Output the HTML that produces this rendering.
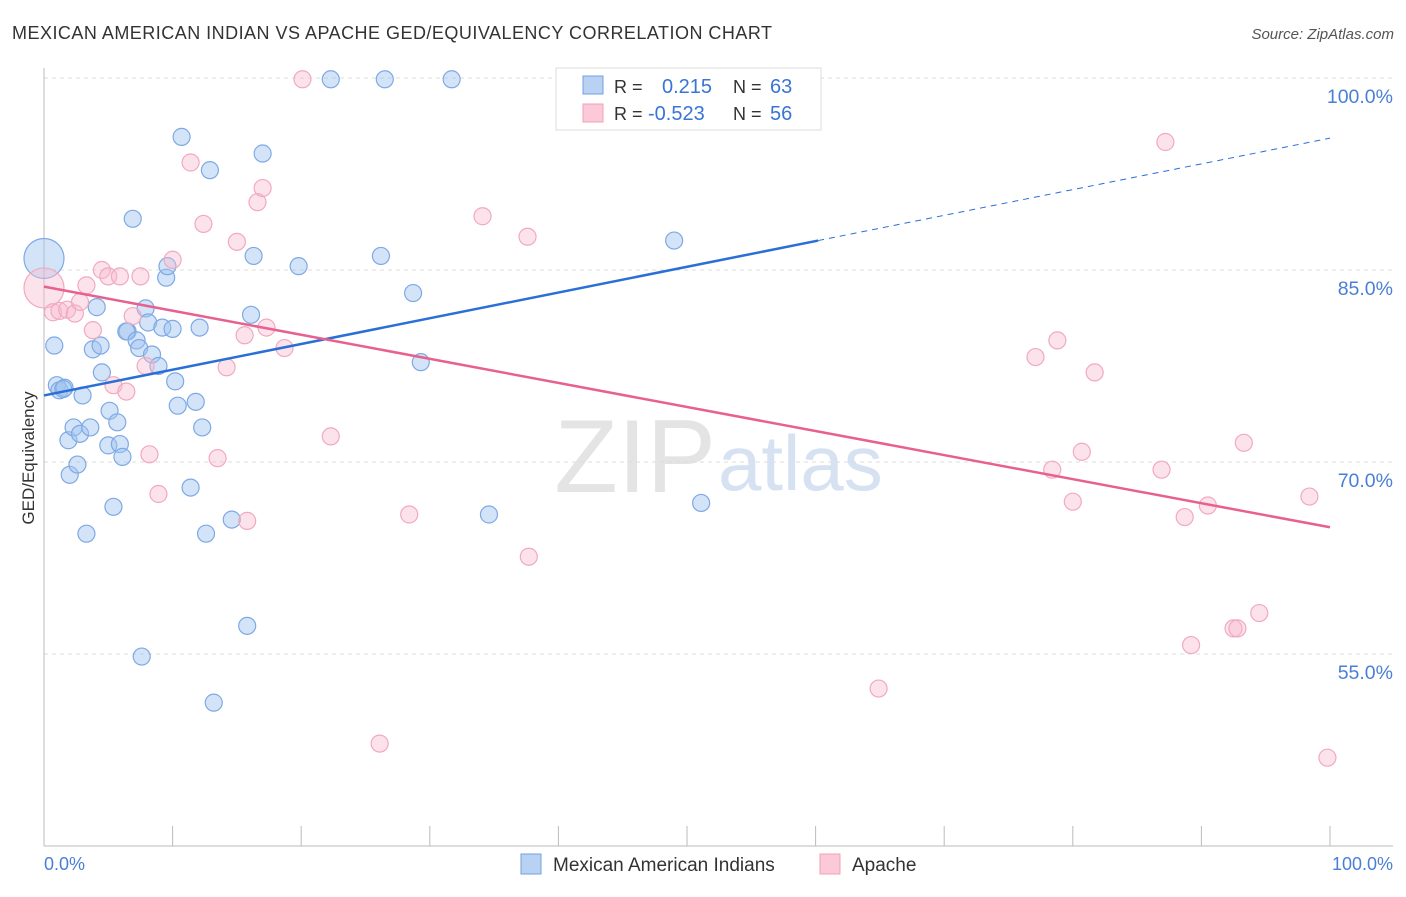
<!DOCTYPE html>
<html><head><meta charset="utf-8"><style>
body{margin:0;background:#fff;font-family:"Liberation Sans",sans-serif;}
svg text{font-family:"Liberation Sans",sans-serif;}
</style></head><body>
<svg id="chart" width="1406" height="892">
<text x="12" y="39" font-size="18" fill="#333" textLength="760">MEXICAN AMERICAN INDIAN VS APACHE GED/EQUIVALENCY CORRELATION CHART</text>
<text x="1394" y="39" font-size="15" fill="#555" font-style="italic" text-anchor="end">Source: ZipAtlas.com</text>
<text x="716" y="492" font-size="104" fill="#e4e4e4" font-family="Liberation Serif" text-anchor="end">ZIP</text>
<text x="718" y="490" font-size="78" fill="#d6e2f2">atlas</text>
<g id="grid"></g>
<g id="axes"></g>
<g id="marks"></g>
<text transform="translate(34,458) rotate(-90)" font-size="17" fill="#333" text-anchor="middle">GED/Equivalency</text>
<text x="44" y="870" font-size="18" fill="#4a7fd6">0.0%</text>
<text x="1393" y="870" font-size="18" fill="#4a7fd6" text-anchor="end">100.0%</text>
<g>
<rect x="556" y="68" width="265" height="62" fill="#fff" stroke="#ddd"/>
<rect x="583" y="76" width="20" height="18" fill="#b9d2f4" stroke="#6fa0e0"/>
<rect x="583" y="104" width="20" height="18" fill="#fbc9d8" stroke="#f0a0b8"/>
<text x="614" y="93" font-size="18" fill="#333">R = </text><text x="662" y="93" font-size="20" fill="#3a74d4">0.215</text>
<text x="733" y="93" font-size="18" fill="#333">N = </text><text x="770" y="93" font-size="20" fill="#3a74d4">63</text>
<text x="614" y="120" font-size="18" fill="#333">R = </text><text x="648" y="120" font-size="20" fill="#3a74d4">-0.523</text>
<text x="733" y="120" font-size="18" fill="#333">N = </text><text x="770" y="120" font-size="20" fill="#3a74d4">56</text>
</g>
<g>
<rect x="521" y="854" width="20" height="20" fill="#b9d2f4" stroke="#6fa0e0"/>
<text x="553" y="871" font-size="19" fill="#333">Mexican American Indians</text>
<rect x="820" y="854" width="20" height="20" fill="#fbc9d8" stroke="#f0a0b8"/>
<text x="852" y="871" font-size="19" fill="#333">Apache</text>
</g>
</svg>
<script>
const yTicks=[100,85,70,55];
const xTicks=[0,10,20,30,40,50,60,70,80,90,100];
const blueX=[0,0.8,1.0,1.2,1.6,1.5,3.0,1.9,2.0,2.3,2.6,2.8,3.3,3.6,4.1,3.8,4.4,4.5,5.1,5.4,5.0,5.7,5.9,6.1,6.9,7.9,8.1,6.5,6.4,7.2,7.4,8.4,8.9,9.2,10.0,9.5,9.6,10.2,10.4,10.7,11.8,11.4,12.1,12.3,12.6,12.9,13.2,14.6,15.8,16.1,16.3,17.0,19.8,22.3,26.5,26.2,28.7,29.3,31.7,34.6,49.0,51.1,7.6];
const blueY=[85.9,79.1,76.0,75.6,75.8,75.7,75.2,71.7,69.0,72.7,69.8,72.2,64.4,72.7,82.1,78.8,79.1,77.0,74.0,66.5,71.3,73.1,71.4,70.4,89.0,82.0,80.9,80.2,80.2,79.5,78.9,78.4,77.5,80.5,80.4,84.4,85.3,76.3,74.4,95.4,74.7,68.0,80.5,72.7,64.4,92.8,51.2,65.5,57.2,81.5,86.1,94.1,85.3,99.9,99.9,86.1,83.2,77.8,99.9,65.9,87.3,66.8,54.8];
const pinkX=[0,0.7,1.2,1.8,2.4,2.8,3.3,3.8,4.5,5.0,5.9,7.5,6.9,5.4,6.4,7.9,8.2,8.9,10.0,11.4,12.4,14.2,15.0,15.6,15.8,16.6,17.0,17.3,18.7,13.5,20.1,22.3,26.1,28.4,34.1,37.6,37.7,64.9,77.1,78.8,78.4,80.0,80.7,81.7,86.9,87.2,88.7,89.2,90.5,92.5,92.8,93.3,94.5,98.4,99.8];
const pinkY=[83.6,81.7,81.8,81.9,81.6,82.5,83.8,80.3,85.0,84.5,84.5,84.5,81.4,76.0,75.5,77.5,70.6,67.5,85.8,93.4,88.6,77.4,87.2,79.9,65.4,90.3,91.4,80.5,78.9,70.3,99.9,72.0,48.0,65.9,89.2,87.6,62.6,52.3,78.2,79.5,69.4,66.9,70.8,77.0,69.4,95.0,65.7,55.7,66.6,57.0,57.0,71.5,58.2,67.3,46.9];
const blueTrend=[75.2,95.3]; const blueSolidEnd=60.2;
const pinkTrend=[83.7,64.9];
const sx=v=>44+v*12.86, sy=v=>78+(100-v)*12.8;
const NS='http://www.w3.org/2000/svg';
function mk(t,a,p){const e=document.createElementNS(NS,t);for(const k in a)e.setAttribute(k,a[k]);p.appendChild(e);return e;}
const grid=document.getElementById('grid'),axes=document.getElementById('axes'),marks=document.getElementById('marks');
yTicks.forEach(v=>{
 const l=mk('line',{x1:44,x2:1393,y1:sy(v),y2:sy(v),stroke:'#ddd','stroke-dasharray':'4,4'},grid);
 
 
 const t=mk('text',{x:1393,y:sy(v)+25,'font-size':19.5,fill:'#4a7fd6','text-anchor':'end'},grid);
 t.textContent=v.toFixed(1)+'%';
 
 
});
const ax=mk('line',{x1:44,x2:44,y1:68,y2:846,stroke:'#bbb'},axes);


const bx=mk('line',{x1:44,x2:1393,y1:846,y2:846,stroke:'#bbb'},axes);


xTicks.forEach(v=>{
 const t=mk('line',{x1:sx(v),x2:sx(v),y1:826,y2:846,stroke:'#bbb'},axes);
 
 
});
function pts(X,Y,fill,stroke,name){
 X.forEach((x,i)=>{
  const r=(x===0)?20:8.5;
  const c=mk('circle',{cx:sx(x),cy:sy(Y[i]),r:r,fill:fill,stroke:stroke,'stroke-width':1.2},marks);
  
  
 });
}
pts(blueX,blueY,'rgba(160,195,240,0.45)','#7ea9e4','point-mexican-american-indians');
pts(pinkX,pinkY,'rgba(248,185,205,0.4)','#f2a9c0','point-apache');
const bl=mk('line',{x1:sx(0),y1:sy(blueTrend[0]),x2:sx(blueSolidEnd),y2:sy(blueTrend[0]+(blueTrend[1]-blueTrend[0])*blueSolidEnd/100),stroke:'#2a6fd6','stroke-width':2.5},marks);


const bd=mk('line',{x1:sx(blueSolidEnd),y1:sy(blueTrend[0]+(blueTrend[1]-blueTrend[0])*blueSolidEnd/100),x2:sx(100),y2:sy(blueTrend[1]),stroke:'#2a6fd6','stroke-width':1,'stroke-dasharray':'6,5'},marks);


const pl=mk('line',{x1:sx(0),y1:sy(pinkTrend[0]),x2:sx(100),y2:sy(pinkTrend[1]),stroke:'#e8608e','stroke-width':2.5},marks);


</script>
</body></html>
